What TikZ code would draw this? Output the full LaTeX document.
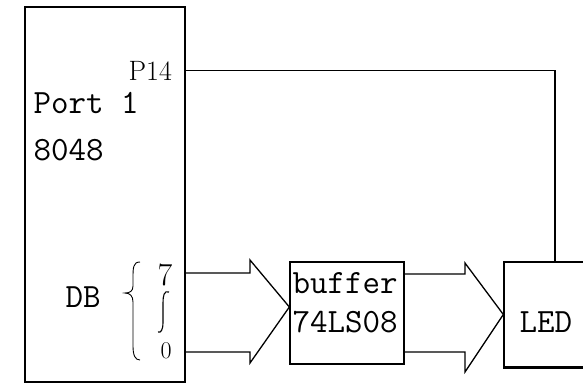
\documentclass[tikz,border=0pt]{standalone}
\usepackage{tikz}
\usetikzlibrary{positioning}

\begin{document}
\begin{tikzpicture}[x=1pt, y=-1pt, line width=1.3pt,
  box/.style={draw, inner sep=0pt},
  tt/.style={font=\fontsize{34}{39}\selectfont\ttfamily, anchor=base west, inner sep=0pt},
  hand/.style={font=\fontsize{28}{32}\selectfont, anchor=base west, inner sep=0pt}]
  \useasboundingbox (0,0) rectangle (583,384);
  % Blocks
  \node[box, minimum width=160pt, minimum height=375pt] (cpu) at (105,194.5) {};
  \node[box, minimum width=114pt, minimum height=102pt] (buf) at (347,313) {};
  \node[box, minimum width=102pt, minimum height=105pt] (led) at (555,314.5) {};
  \draw[line width=2.4pt] (led.south west) -- (led.south east);
  % Labels
  \node[hand] (p14) at (128,80) {P14};
  \node[tt] (port) at (33,113) {Port 1};
  \node[tt] (chip) at (33,160) {8048};
  \node[tt] (db) at (65,307) {DB};
  \node[hand, font=\fontsize{32}{36}\selectfont] (msb) at (157,285) {7};
  \node[hand, font=\fontsize{24}{28}\selectfont] (lsb) at (160,358) {0};
  \node[tt] (buftxt) at (292,293) {buffer};
  \node[tt] (buftype) at (292,332) {74LS08};
  \node[tt] (ledtxt) at (519,332) {LED};
  % Brace for data bus bits
  \draw[line width=0.9pt] (140,262) .. controls (133,262) and (133,268) .. (133,278)
    -- (133,286) .. controls (133,291) and (130,293) .. (125,293)
    .. controls (130,293) and (133,296) .. (133,302)
    -- (133,346) .. controls (133,355) and (135,360) .. (140,360);
  \draw[line width=1.1pt] (169,292) .. controls (164,290) and (163,296) .. (163,303)
    -- (163,322) .. controls (163,330) and (161,333) .. (158,332);
  % P14 to LED
  \draw (cpu.east |- p14.east) -| (led.north);
  % Bus: 8048 -> buffer
  \draw (cpu.east |- 0,273) -- (250,273) -- (250,260) -- (buf.west |- 0,307)
    -- (250,363) -- (250,352) -- (cpu.east |- 0,352);
  % Bus: buffer -> LED
  \draw (buf.east |- 0,274) -- (465,274) -- (465,263) -- (led.west)
    -- (465,372) -- (465,352) -- (buf.east |- 0,352);
\end{tikzpicture}
\end{document}
